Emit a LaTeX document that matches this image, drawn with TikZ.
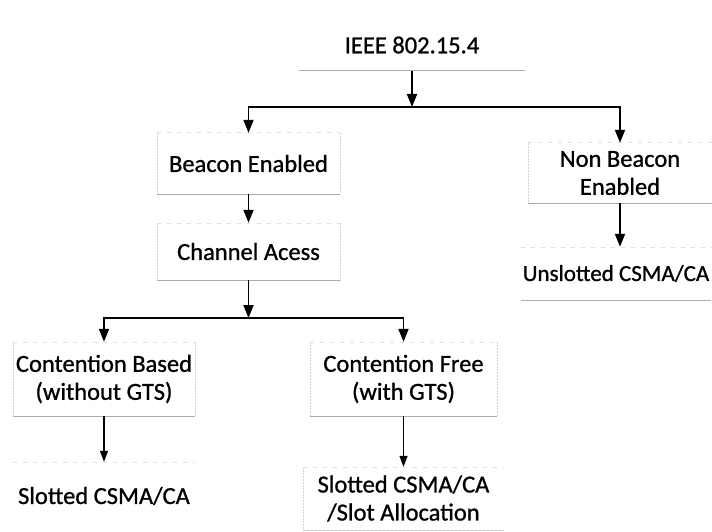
\documentclass[tikz,border=0pt]{standalone}
\usepackage{fontspec}
\setmainfont{Carlito}[FakeBold=0.9]
\usetikzlibrary{arrows.meta}

% faint scanned-looking box edges
\newcommand\boxlines[1]{%
  \draw[sideline] (#1.north west) -- (#1.south west);
  \draw[sideline] (#1.north east) -- (#1.south east);
  \draw[topline] (#1.north west) -- (#1.north east);
  \draw[bottomline] (#1.south west) -- (#1.south east);
}

\begin{document}
\begin{tikzpicture}[x=1pt,y=-1pt,
  box/.style={draw=none, align=center, inner sep=0pt,
    font=\fontsize{24.5}{28}\selectfont},
  sideline/.style={draw=gray!35, line width=0.6pt, dash pattern=on 2pt off 1pt},
  topline/.style={draw=gray!25, line width=0.6pt, dash pattern=on 4pt off 6pt},
  bottomline/.style={draw=gray!65, line width=1.1pt},
  arr/.style={draw=black, line width=1.8pt, -{Triangle[length=13pt,width=10pt]}},
  thinarr/.style={draw=black, line width=1.2pt, -{Triangle[length=11pt,width=8pt]}},
  link/.style={draw=black, line width=1.8pt}]

\useasboundingbox (0,0) rectangle (712,532);
\fill[white] (0,0) rectangle (712,532);

% nodes
\node[box, minimum width=226pt, minimum height=51pt] (ieee) at (412,45) {IEEE 802.15.4};
\node[box, minimum width=183pt, minimum height=61pt] (beacon) at (248.5,163.5) {Beacon Enabled};
\node[box, minimum width=184pt, minimum height=60pt] (nonbeacon) at (620,173) {Non Beacon\\Enabled};
\node[box, minimum width=190pt, minimum height=53pt,
      font=\fontsize{23}{28}\selectfont] (unslotted) at (616,273.5) {Unslotted CSMA/CA};
\node[box, minimum width=183pt, minimum height=57pt] (channel) at (248.5,251.5) {Channel Acess};
\node[box, minimum width=182pt, minimum height=74pt] (cbased) at (104,379) {Contention Based\\(without GTS)};
\node[box, minimum width=187pt, minimum height=74pt] (cfree) at (403.5,379) {Contention Free\\(with GTS)};
\node[box, minimum width=182pt, minimum height=68pt] (slotted) at (104,496) {Slotted CSMA/CA};
\node[box, minimum width=201pt, minimum height=63pt] (slotalloc) at (403.5,498.5) {Slotted CSMA/CA\\/Slot Allocation};

% box edges
\draw[bottomline] (ieee.south west) -- (ieee.south east);
\boxlines{beacon}
\boxlines{nonbeacon}
\draw[bottomline] (unslotted.south west) -- (unslotted.south east);
\draw[topline] (unslotted.north west) -- (unslotted.north east);
\boxlines{channel}
\boxlines{cbased}
\boxlines{cfree}
\draw[topline] (slotted.north west) -- (slotted.north east);
\draw[sideline] (slotalloc.north west) -- (slotalloc.south west);
\draw[topline] (slotalloc.north west) -- (slotalloc.north east);
\draw[bottomline, draw=gray!45, dash pattern=on 3pt off 1pt] (slotalloc.south west) -- (slotalloc.south east);

% connectors
\coordinate (split1) at (412,107);
\coordinate (split2) at (248.5,318);
\draw[arr] (ieee) -- (split1);
\draw[link] (beacon.north |- split1) -- (nonbeacon.north |- split1);
\draw[arr] (split1) -| (beacon);
\draw[arr] (split1) -| (nonbeacon);
\draw[arr] (beacon) -- (channel);
\draw[arr] (nonbeacon) -- (nonbeacon |- unslotted.north);
\draw[arr] (channel) -- (split2);
\draw[link] (cbased.north |- split2) -- (cfree.north |- split2);
\draw[arr] (split2) -| (cbased);
\draw[arr] (split2) -| (cfree);
\draw[thinarr] (cbased) -- (slotted);
\draw[thinarr] (cfree) -- (slotalloc);
\end{tikzpicture}
\end{document}
